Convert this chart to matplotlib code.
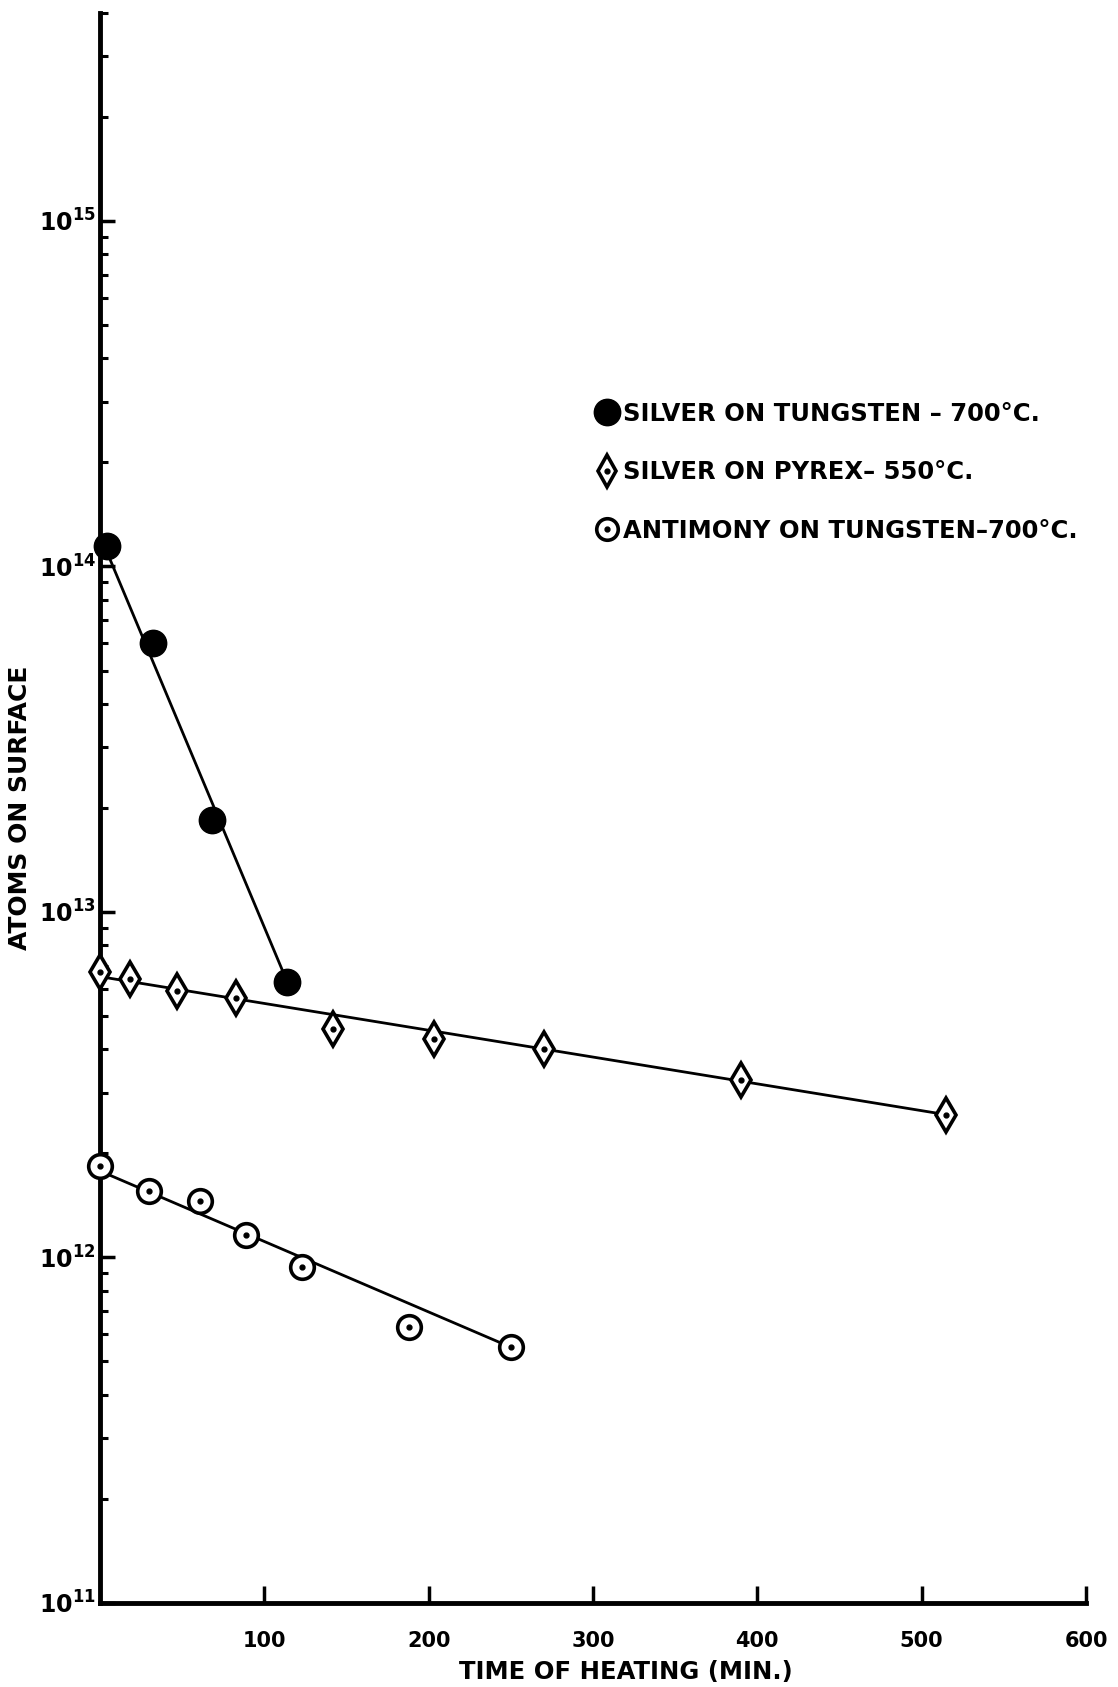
import numpy as np
import matplotlib
matplotlib.use('Agg')
import matplotlib.pyplot as plt
from matplotlib.lines import Line2D
from matplotlib.ticker import LogLocator, LogFormatterMathtext, NullFormatter

plt.rcParams['font.family'] = ['DejaVu Sans']
plt.rcParams['font.weight'] = 'bold'
plt.rcParams['axes.labelweight'] = 'bold'

# ---- data (time in min, atoms on surface) ----
ag_w_t = [4, 32, 68, 114]
ag_w_n = [1.15e14, 6.0e13, 1.85e13, 6.27e12]
ag_w_fit_t = [5, 114]
ag_w_fit_n = [1.08e14, 6.27e12]

ag_py_t = [0, 18, 47, 83, 142, 203, 270, 390, 515]
ag_py_n = [6.7e12, 6.4e12, 5.9e12, 5.65e12, 4.6e12, 4.28e12, 4.0e12, 3.26e12, 2.59e12]
ag_py_fit_t = [0, 515]
ag_py_fit_n = [6.5e12, 2.59e12]

sb_w_t = [0, 30, 61, 89, 123, 188, 250]
sb_w_n = [1.84e12, 1.56e12, 1.46e12, 1.16e12, 9.4e11, 6.3e11, 5.5e11]
sb_w_fit_t = [0, 250]
sb_w_fit_n = [1.78e12, 5.5e11]

labels = ["SILVER ON TUNGSTEN \u2013 700\u00b0C.",
          "SILVER ON PYREX\u2013 550\u00b0C.",
          "ANTIMONY ON TUNGSTEN\u2013700\u00b0C."]
x_ticks = [100, 200, 300, 400, 500, 600]

fig = plt.figure(figsize=(11.18, 16.87), dpi=100)
ax = fig.add_axes([0.0894, 0.0498, 0.882, 0.9425])
ax.set_yscale('log')
ax.set_xlim(0, 600)
ax.set_ylim(1e11, 4e15)

lw = 2.0
mew = 2.6
# silver on tungsten
ax.plot(ag_w_fit_t, ag_w_fit_n, color='black', lw=lw, zorder=2)
ax.plot(ag_w_t, ag_w_n, linestyle='none', marker='o', ms=19, color='black',
        zorder=3, clip_on=False)
# silver on pyrex
ax.plot(ag_py_fit_t, ag_py_fit_n, color='black', lw=lw, zorder=2)
ax.plot(ag_py_t, ag_py_n, linestyle='none', marker='d', ms=17, mfc='white',
        mec='black', mew=mew, zorder=3, clip_on=False)
ax.plot(ag_py_t, ag_py_n, linestyle='none', marker='o', ms=3.5, color='black',
        zorder=4, clip_on=False)
# antimony on tungsten
ax.plot(sb_w_fit_t, sb_w_fit_n, color='black', lw=lw, zorder=2)
ax.plot(sb_w_t, sb_w_n, linestyle='none', marker='o', ms=17, mfc='white',
        mec='black', mew=mew, zorder=3, clip_on=False)
ax.plot(sb_w_t, sb_w_n, linestyle='none', marker='o', ms=3.5, color='black',
        zorder=4, clip_on=False)

# axes styling
for s in ['top', 'right']:
    ax.spines[s].set_visible(False)
for s in ['left', 'bottom']:
    ax.spines[s].set_linewidth(3.5)

ax.set_xticks(x_ticks)
ax.set_xticklabels([str(v) for v in x_ticks])
ax.yaxis.set_major_locator(LogLocator(base=10, numticks=10))
ax.yaxis.set_major_formatter(LogFormatterMathtext())
ax.yaxis.set_minor_locator(LogLocator(base=10, subs=np.arange(2, 10), numticks=20))
ax.yaxis.set_minor_formatter(NullFormatter())

ax.tick_params(axis='x', direction='in', length=12, width=2.5, pad=20, labelsize=15)
ax.tick_params(axis='y', which='major', direction='in', length=11, width=2.5,
               pad=3, labelsize=17)
ax.tick_params(axis='y', which='minor', direction='in', length=6, width=2.2)

ax.set_xlabel('TIME OF HEATING (MIN.)', fontsize=17.5, fontweight='bold')
ax.xaxis.set_label_coords(0.533, -0.036)
ax.set_ylabel('ATOMS ON SURFACE', fontsize=18, fontweight='bold')
ax.yaxis.set_label_coords(-0.069, 0.5)

h1 = Line2D([], [], linestyle='none', marker='o', ms=19, color='black')
h2o = Line2D([], [], linestyle='none', marker='d', ms=16, mfc='white', mec='black', mew=mew)
h3o = Line2D([], [], linestyle='none', marker='o', ms=15.5, mfc='white', mec='black', mew=mew)
hd = Line2D([], [], linestyle='none', marker='o', ms=3.5, color='black')
ax.legend([h1, (h2o, hd), (h3o, hd)], labels, loc='upper left',
          bbox_to_anchor=(0.532, 0.762), bbox_transform=fig.transFigure,
          frameon=False, handlelength=1.0, handletextpad=0.15, labelspacing=1.42,
          fontsize=17.5, borderpad=0, borderaxespad=0)

fig.savefig('out.png', dpi=100)
